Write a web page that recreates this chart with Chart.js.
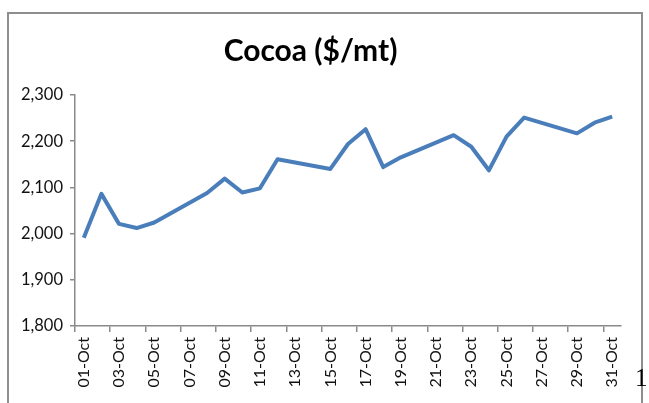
<!DOCTYPE html>
<html>
<head>
<meta charset="utf-8">
<script src="https://cdn.jsdelivr.net/npm/chart.js@4.4.1/dist/chart.umd.min.js"></script>
<style>
  html, body { margin: 0; padding: 0; background: #fff; width: 649px; height: 403px; overflow: hidden; }
  #frame { position: absolute; left: 7px; top: 12px; width: 632px; height: 400px; border: 2px solid #8e8e8e; border-bottom: none; }
  #wrap { position: absolute; left: 0; top: 0; width: 649px; height: 403px; }
  #pg { position: absolute; left: 635px; top: 364px; font-family: "Liberation Serif", serif; font-size: 25px; color: #000; }
</style>
</head>
<body>
<div id="frame"></div>
<div id="wrap"><canvas id="c" width="649" height="403"></canvas></div>
<div id="pg">1</div>
<script>
const title = 'Cocoa ($/mt)';
const days = Array.from({length: 31}, (_, i) => String(i + 1).padStart(2, '0') + '-Oct');
// null = no trading (weekend)
const prices = [1991, 2086, 2021, 2012, 2024, null, null, 2088, 2119, 2089, 2098, 2161, null, null,
  2140, 2194, 2226, 2144, 2165, null, null, 2213, 2188, 2137, 2210, 2251, null, null, 2217, 2240, 2253];
const yMin = 1800, yMax = 2300, yStep = 100;

const axisColor = '#8a8a8a';
const font = 'Lato, "Open Sans", sans-serif';

new Chart(document.getElementById('c'), {
  type: 'line',
  data: {
    labels: days,
    datasets: [{
      data: prices,
      borderColor: '#4a7ebb',
      borderWidth: 4,
      pointRadius: 0,
      tension: 0,
      spanGaps: true,
      borderJoinStyle: 'round',
      borderCapStyle: 'butt'
    }]
  },
  options: {
    responsive: false,
    animation: false,
    devicePixelRatio: 1,
    layout: { padding: { left: 0, right: 28, top: 0, bottom: 0 } },
    plugins: {
      legend: { display: false },
      tooltip: { enabled: false },
      title: {
        display: true,
        text: title,
        color: '#000',
        font: { family: font, size: 30, weight: 'bold', lineHeight: 1.2 },
        padding: { top: 33, bottom: 26 }
      }
    },
    scales: {
      x: {
        type: 'category',
        offset: true,
        afterFit: s => { s.height = 77; },
        border: { display: true, color: axisColor, width: 1.5 },
        grid: {
          offset: true,
          drawOnChartArea: false,
          drawTicks: true,
          tickLength: 6,
          lineWidth: 1.5,
          color: ctx => (ctx.index % 2 === 0 ? axisColor : 'rgba(0,0,0,0)')
        },
        ticks: {
          autoSkip: false,
          maxRotation: 90,
          minRotation: 90,
          padding: 5,
          color: '#111',
          font: { family: font, size: 16 },
          callback: (v, i) => (i % 2 === 0 ? days[i] : '')
        }
      },
      y: {
        min: yMin,
        max: yMax,
        afterFit: s => { s.width = 75; },
        border: { display: true, color: axisColor, width: 1.5 },
        grid: { drawOnChartArea: false, drawTicks: true, tickLength: 5, color: axisColor, lineWidth: 1.5 },
        ticks: {
          stepSize: yStep,
          padding: 7,
          color: '#111',
          font: { family: font, size: 16.5 },
          callback: v => Number(v).toLocaleString('en-US')
        }
      }
    }
  }
});
</script>
</body>
</html>
